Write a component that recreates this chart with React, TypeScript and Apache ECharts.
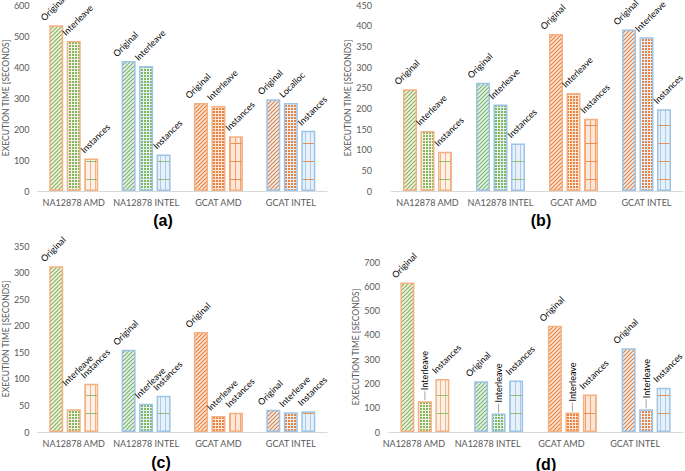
import React, { useEffect, useRef } from 'react';
import * as echarts from 'echarts';

const categories = ['NA12878 AMD', 'NA12878 INTEL', 'GCAT AMD', 'GCAT INTEL'];
const seriesNames = ['Original', 'Interleave', 'Instances'];
const panelLetters = ['(a)', '(b)', '(c)', '(d)'];
const yAxisTitle = 'EXECUTION TIME [SECONDS]';

// panel (a)
const aOriginal = [535, 419, 284, 296];
const aInterleave = [484, 403, 274, 284];
const aInstances = [105, 118, 177, 194];
const aInterleaveLabels = ['Interleave', 'Interleave', 'Interleave', 'Localloc'];
// panel (b)
const bOriginal = [246, 262, 380, 391];
const bInterleave = [145, 209, 237, 372];
const bInstances = [95, 115, 175, 198];
// panel (c)
const cOriginal = [312, 155, 188, 42];
const cInterleave = [43, 53, 30, 37];
const cInstances = [91, 68, 36, 39];
// panel (d)
const dOriginal = [616, 209, 437, 345];
const dInterleave = [127, 76, 80, 94];
const dInstances = [218, 212, 154, 182];

const yMax = [600, 450, 350, 700];
const yStep = [100, 50, 50, 100];

// styles per category group
const groupFg = ['#7DB95B', '#7DB95B', '#E8823E', '#E8823E'];
const groupBorder = ['#F4B183', '#9DC3E6', '#F4B183', '#9DC3E6'];
const groupBg = ['#FDF0E6', '#E8F1FA', '#FCE6D7', '#E8F1FA'];
const groupLine = ['#F2B48A', '#A9CBE9', '#EFA374', '#A9CBE9'];

function makeTile(kind: string, fg: string, bg: string, line: string) {
  const c = document.createElement('canvas');
  let w = 4, h = 4;
  if (kind === 'grid') { w = 3; h = 3; }
  if (kind === 'lines') { w = 5; h = 18; }
  c.width = w; c.height = h;
  const ctx = c.getContext('2d')!;
  ctx.fillStyle = bg;
  ctx.fillRect(0, 0, w, h);
  if (kind === 'hatch') {
    ctx.strokeStyle = fg;
    ctx.lineWidth = 1.2;
    ctx.beginPath();
    ctx.moveTo(-1, 5); ctx.lineTo(5, -1);
    ctx.moveTo(-1, 1); ctx.lineTo(1, -1);
    ctx.moveTo(3, 5); ctx.lineTo(5, 3);
    ctx.stroke();
  } else if (kind === 'grid') {
    ctx.fillStyle = fg;
    ctx.fillRect(0, 0, 2, 2);
  } else {
    ctx.fillStyle = line;
    ctx.fillRect(0, 0, 1, h);
    ctx.fillStyle = fg;
    ctx.globalAlpha = 0.85;
    ctx.fillRect(0, h - 1, w, 1);
  }
  return { image: c.toDataURL(), repeat: 'repeat', imageWidth: w, imageHeight: h };
}

const grids = [
  { left: 32, top: 5, width: 295, height: 186 },
  { left: 391, top: 5, width: 292, height: 186 },
  { left: 33, top: 246, width: 294, height: 186 },
  { left: 388, top: 262, width: 295, height: 170 },
];
const yLabelMargin = [8, 19, 8, 8];
const yNameGap = [21, 23, 22, 22];
const xLabelPadRight = [0, 0, 0, 22];
const letterPos = [[163, 220], [541, 220], [161, 462], [546, 464]];
// desired on-screen shift of each rotated label's start point
const labelShift = [[-11, -3], [-7, -4], [-6, -4]];

// convert a screen shift into zrender's rotated label offset
function rotOffset(dx: number, dy: number, deg: number) {
  const r = (deg * Math.PI) / 180;
  const c = Math.cos(r), s = Math.sin(r);
  return [dx * c - dy * s, dx * s + dy * c];
}

export default function App() {
  const ref = useRef<HTMLDivElement>(null);
  useEffect(() => {
    if (!ref.current) return;
    const chart = echarts.init(ref.current, undefined, { renderer: 'svg' });
    const kinds = ['hatch', 'grid', 'lines'];
    const tiles = kinds.map((k) =>
      categories.map((_, g) => makeTile(k, groupFg[g], groupBg[g], groupLine[g]))
    );
    const panels = [
      [aOriginal, aInterleave, aInstances],
      [bOriginal, bInterleave, bInstances],
      [cOriginal, cInterleave, cInstances],
      [dOriginal, dInterleave, dInstances],
    ];
    const series: any[] = [];
    panels.forEach((vals, p) => {
      vals.forEach((arr, s) => {
        const vertical = p === 3 && s === 1;
        const data = arr.map((v, g) => {
          const item: any = {
            value: v,
            itemStyle: {
              color: tiles[s][g],
              borderColor: groupBorder[g],
              borderWidth: 1.5,
            },
          };
          if (p === 0 && s === 1) item.label = { formatter: aInterleaveLabels[g] };
          if (p === 2 && s === 1 && g === 0) item.label = { offset: rotOffset(-7, -22, 45) };
          return item;
        });
        const base: any = {
          type: 'bar',
          name: seriesNames[s],
          xAxisIndex: p,
          yAxisIndex: p,
          barWidth: 14,
          barGap: '25%',
          data,
        };
        if (vertical) {
          base.label = {
            show: true, position: 'top', rotate: 90, align: 'left', verticalAlign: 'middle',
            distance: 2, offset: rotOffset(0, -9, 90),
            fontSize: 9, color: '#000', fontFamily: 'Lato', formatter: seriesNames[s],
          };
        } else {
          base.label = {
            show: true, position: 'top', rotate: 45, align: 'left', verticalAlign: 'bottom',
            distance: 0, offset: rotOffset(labelShift[s][0], labelShift[s][1], 45),
            fontSize: 9, color: '#000', fontFamily: 'Lato', formatter: seriesNames[s],
          };
        }
        series.push(base);
      });
    });
    // leader lines for the vertical labels of panel (d)
    series.push({
      type: 'custom',
      xAxisIndex: 3,
      yAxisIndex: 3,
      silent: true,
      z: 5,
      data: dInterleave.map((v, i) => [i, v]),
      renderItem: (_params: any, api: any) => {
        const pt = api.coord([api.value(0), api.value(1)]);
        return {
          type: 'line',
          shape: { x1: pt[0], y1: pt[1] - 1, x2: pt[0], y2: pt[1] - 10 },
          style: { stroke: '#A6A6A6', lineWidth: 1 },
        };
      },
    });

    chart.setOption({
      animation: false,
      grid: grids,
      xAxis: grids.map((_, i) => ({
        type: 'category',
        gridIndex: i,
        data: categories,
        axisLine: { lineStyle: { color: '#D9D9D9', width: 1 } },
        axisTick: { show: false },
        axisLabel: {
          interval: 0, color: '#595959', fontSize: 9, fontFamily: 'Lato', margin: 7,
          padding: [0, xLabelPadRight[i], 0, 0],
        },
      })),
      yAxis: grids.map((_, i) => ({
        type: 'value',
        gridIndex: i,
        min: 0,
        max: yMax[i],
        interval: yStep[i],
        name: yAxisTitle,
        nameLocation: 'middle',
        nameGap: yNameGap[i],
        nameTextStyle: { color: '#595959', fontSize: 8.5, fontFamily: 'Lato' },
        axisLine: { show: false },
        axisTick: { show: false },
        splitLine: { show: false },
        axisLabel: { color: '#595959', fontSize: 9, fontFamily: 'Lato', margin: yLabelMargin[i] },
      })),
      series,
      graphic: panelLetters.map((t, i) => ({
        type: 'text',
        x: letterPos[i][0],
        y: letterPos[i][1],
        style: {
          text: t,
          fill: '#000',
          font: 'bold 16px "Liberation Sans", Arial, sans-serif',
          textAlign: 'center',
          textVerticalAlign: 'middle',
        },
      })),
    });
    return () => chart.dispose();
  }, []);
  return <div ref={ref} style={{ position: 'absolute', left: 0, top: 0, width: 685, height: 471 }} />;
}
